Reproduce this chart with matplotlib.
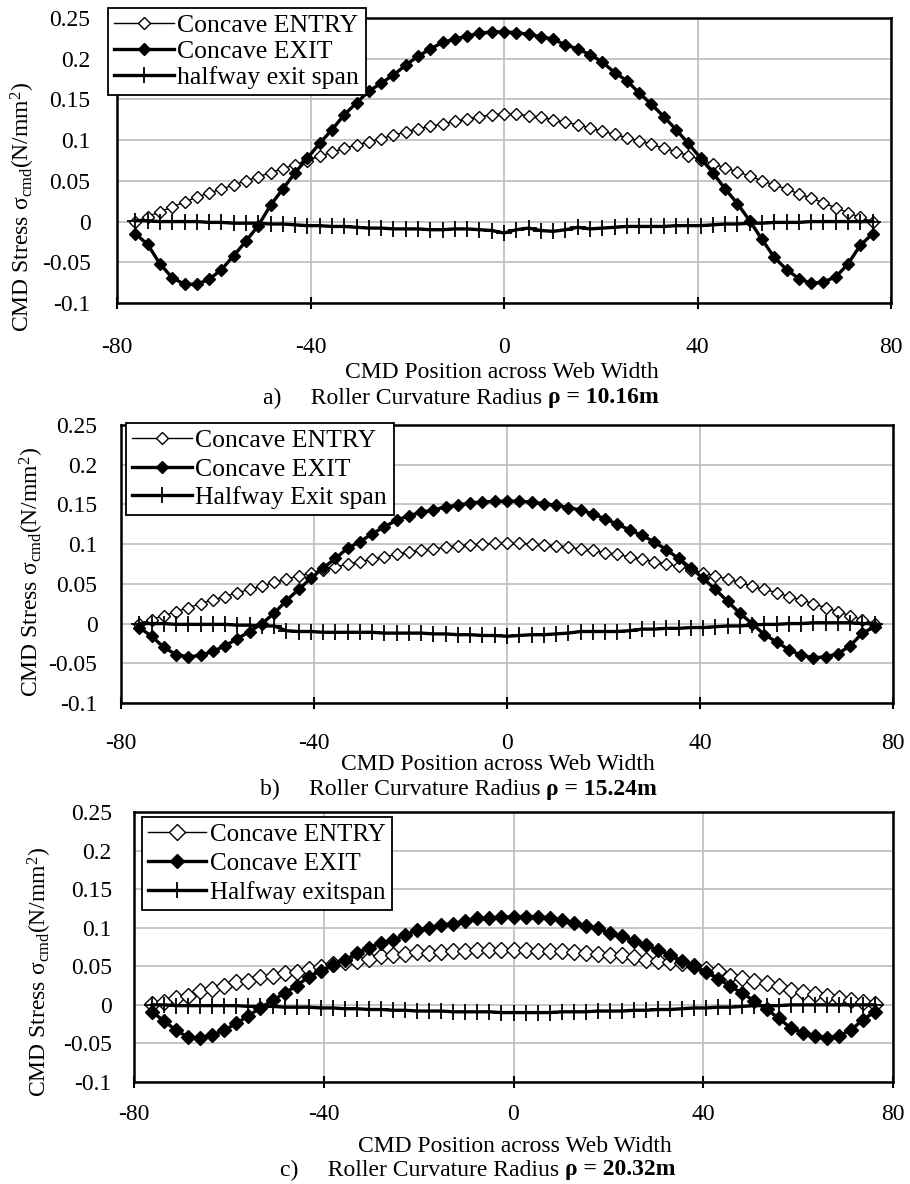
"""
CMD stress across web width for three roller curvature radii.
"""

import matplotlib

matplotlib.use("Agg")
import matplotlib.pyplot as plt

plt.rcParams["font.family"] = ["Liberation Serif", "DejaVu Serif"]
plt.rcParams["mathtext.fontset"] = "custom"
plt.rcParams["mathtext.rm"] = "Liberation Serif"
plt.rcParams["mathtext.it"] = "Liberation Serif:italic"
plt.rcParams["mathtext.bf"] = "Liberation Serif:bold"
plt.rcParams["axes.unicode_minus"] = False

# CMD positions across the web (mm)
positions = [
    -76.2, -73.66, -71.12, -68.58, -66.04, -63.5, -60.96, -58.42, -55.88, -53.34,
    -50.8, -48.26, -45.72, -43.18, -40.64, -38.1, -35.56, -33.02, -30.48, -27.94,
    -25.4, -22.86, -20.32, -17.78, -15.24, -12.7, -10.16, -7.62, -5.08, -2.54,
    0.0, 2.54, 5.08, 7.62, 10.16, 12.7, 15.24, 17.78, 20.32, 22.86,
    25.4, 27.94, 30.48, 33.02, 35.56, 38.1, 40.64, 43.18, 45.72, 48.26,
    50.8, 53.34, 55.88, 58.42, 60.96, 63.5, 66.04, 68.58, 71.12, 73.66, 76.2,
]

# a) rho = 10.16 m
entry_a = [
    0.000, 0.006, 0.012, 0.018, 0.024, 0.030, 0.035, 0.040, 0.045, 0.050,
    0.055, 0.060, 0.065, 0.070, 0.075, 0.080, 0.085, 0.090, 0.094, 0.098,
    0.102, 0.106, 0.110, 0.114, 0.117, 0.120, 0.123, 0.126, 0.129, 0.131,
    0.132, 0.132, 0.130, 0.128, 0.125, 0.122, 0.119, 0.115, 0.111, 0.107,
    0.103, 0.099, 0.095, 0.090, 0.086, 0.081, 0.076, 0.071, 0.066, 0.061,
    0.056, 0.050, 0.045, 0.040, 0.034, 0.029, 0.023, 0.017, 0.011, 0.005, 0.000,
]
exit_a = [
    -0.015, -0.028, -0.052, -0.069, -0.077, -0.077, -0.071, -0.059, -0.042, -0.024,
    -0.005, 0.020, 0.040, 0.060, 0.078, 0.096, 0.113, 0.131, 0.146, 0.160,
    0.170, 0.180, 0.192, 0.203, 0.212, 0.220, 0.224, 0.228, 0.231, 0.233,
    0.233, 0.232, 0.230, 0.227, 0.224, 0.217, 0.212, 0.205, 0.196, 0.183,
    0.173, 0.158, 0.144, 0.129, 0.113, 0.096, 0.078, 0.060, 0.040, 0.022,
    0.001, -0.022, -0.044, -0.059, -0.070, -0.076, -0.074, -0.068, -0.052, -0.029, -0.015,
]
halfway_a = [
    0.001, 0.001, 0.000, 0.000, 0.000, 0.000, -0.001, -0.001, -0.002, -0.002,
    -0.002, -0.003, -0.003, -0.004, -0.005, -0.005, -0.006, -0.006, -0.007, -0.008,
    -0.008, -0.009, -0.009, -0.009, -0.010, -0.010, -0.009, -0.009, -0.010, -0.011,
    -0.014, -0.010, -0.008, -0.011, -0.012, -0.010, -0.007, -0.009, -0.008, -0.007,
    -0.006, -0.006, -0.006, -0.006, -0.005, -0.005, -0.005, -0.004, -0.003, -0.003,
    -0.002, -0.002, -0.001, -0.001, -0.001, 0.000, 0.000, 0.000, 0.000, 0.000, 0.000,
]

# b) rho = 15.24 m
entry_b = [
    0.000, 0.005, 0.010, 0.015, 0.020, 0.025, 0.030, 0.034, 0.039, 0.043,
    0.047, 0.052, 0.056, 0.060, 0.064, 0.068, 0.071, 0.075, 0.078, 0.081,
    0.084, 0.087, 0.090, 0.092, 0.094, 0.096, 0.098, 0.099, 0.100, 0.101,
    0.101, 0.101, 0.100, 0.099, 0.098, 0.096, 0.094, 0.092, 0.089, 0.087,
    0.084, 0.081, 0.078, 0.075, 0.072, 0.068, 0.064, 0.060, 0.056, 0.052,
    0.047, 0.043, 0.039, 0.034, 0.030, 0.025, 0.020, 0.015, 0.010, 0.005, 0.000,
]
exit_b = [
    -0.005, -0.016, -0.030, -0.039, -0.042, -0.040, -0.035, -0.028, -0.019, -0.010,
    0.000, 0.013, 0.029, 0.043, 0.057, 0.070, 0.082, 0.095, 0.103, 0.113,
    0.122, 0.130, 0.136, 0.140, 0.143, 0.147, 0.149, 0.152, 0.153, 0.154,
    0.154, 0.154, 0.153, 0.151, 0.149, 0.146, 0.143, 0.138, 0.132, 0.125,
    0.118, 0.111, 0.103, 0.093, 0.082, 0.070, 0.057, 0.043, 0.028, 0.013,
    0.000, -0.014, -0.023, -0.033, -0.040, -0.043, -0.042, -0.038, -0.028, -0.012, -0.004,
]
halfway_b = [
    0.000, 0.000, 0.000, -0.001, -0.001, -0.001, -0.001, -0.001, -0.002, -0.002,
    -0.003, -0.003, -0.009, -0.010, -0.010, -0.011, -0.011, -0.011, -0.011, -0.011,
    -0.012, -0.012, -0.012, -0.012, -0.013, -0.013, -0.014, -0.014, -0.015, -0.015,
    -0.016, -0.015, -0.014, -0.014, -0.013, -0.012, -0.010, -0.010, -0.010, -0.010,
    -0.009, -0.007, -0.007, -0.006, -0.006, -0.005, -0.005, -0.004, -0.003, -0.003,
    -0.002, -0.001, -0.001, 0.000, 0.000, 0.001, 0.001, 0.001, 0.001, 0.000, 0.000,
]

# c) rho = 20.32 m
entry_c = [
    0.001, 0.004, 0.009, 0.012, 0.018, 0.020, 0.025, 0.029, 0.031, 0.036,
    0.038, 0.041, 0.042, 0.047, 0.049, 0.053, 0.055, 0.057, 0.060, 0.063,
    0.064, 0.066, 0.068, 0.067, 0.068, 0.070, 0.070, 0.071, 0.071, 0.071,
    0.071, 0.071, 0.070, 0.070, 0.070, 0.068, 0.067, 0.066, 0.065, 0.064,
    0.062, 0.058, 0.057, 0.056, 0.054, 0.051, 0.047, 0.044, 0.038, 0.035,
    0.031, 0.028, 0.024, 0.019, 0.017, 0.014, 0.012, 0.009, 0.006, 0.004, 0.001,
]
exit_c = [
    -0.009, -0.021, -0.033, -0.042, -0.043, -0.039, -0.033, -0.024, -0.014, -0.004,
    0.006, 0.015, 0.025, 0.036, 0.044, 0.052, 0.058, 0.067, 0.074, 0.080,
    0.084, 0.090, 0.097, 0.099, 0.104, 0.105, 0.109, 0.112, 0.112, 0.114,
    0.114, 0.114, 0.114, 0.113, 0.110, 0.106, 0.102, 0.099, 0.093, 0.089,
    0.083, 0.077, 0.071, 0.065, 0.057, 0.051, 0.042, 0.034, 0.024, 0.015,
    0.005, -0.006, -0.017, -0.030, -0.036, -0.040, -0.043, -0.040, -0.033, -0.019, -0.009,
]
halfway_c = [
    0.000, 0.000, -0.001, -0.001, -0.001, -0.001, -0.001, -0.001, -0.002, -0.002,
    -0.002, -0.003, -0.003, -0.003, -0.004, -0.004, -0.005, -0.005, -0.006, -0.006,
    -0.007, -0.007, -0.008, -0.008, -0.008, -0.009, -0.009, -0.009, -0.009, -0.010,
    -0.010, -0.010, -0.010, -0.010, -0.009, -0.009, -0.009, -0.008, -0.008, -0.008,
    -0.007, -0.007, -0.006, -0.006, -0.005, -0.004, -0.004, -0.003, -0.003, -0.002,
    -0.001, -0.001, -0.001, 0.000, 0.000, 0.000, 0.000, 0.000, 0.000, 0.000, 0.000,
]

x_ticks = [-80, -40, 0, 40, 80]
y_ticks = [-0.1, -0.05, 0, 0.05, 0.1, 0.15, 0.2, 0.25]
y_tick_labels = ["-0.1", "-0.05", "0", "0.05", "0.1", "0.15", "0.2", "0.25"]

W, H = 910, 1184
fig = plt.figure(figsize=(W / 100, H / 100), dpi=100)


def fx(x):
    return x / W


def fy(y):
    return 1 - y / H


def draw_panel(lay, entry, exit_, halfway, labels, tag, radius):
    """Draw one of the three stacked panels; lay holds pixel positions."""
    left, top, right, bottom = lay["box"]
    ax = fig.add_axes([fx(left), fy(bottom), (right - left) / W, (bottom - top) / H])

    ax.plot(positions, entry, color="black", lw=1.0, marker="D",
            ms=lay["ms_entry"], mfc="white", mec="black", mew=1.0,
            label=labels[0], zorder=3)
    ax.plot(positions, exit_, color="black", lw=2.4, marker="D",
            ms=lay["ms_exit"], mfc="black", mec="black",
            label=labels[1], zorder=4)
    ax.plot(positions, halfway, color="black", lw=2.4, marker="+",
            ms=11, mew=1.3, label=labels[2], zorder=3)

    ax.set_xlim(-80, 80)
    ax.set_ylim(-0.1, 0.25)
    ax.set_xticks(x_ticks)
    ax.set_xticklabels([str(t) for t in x_ticks])
    ax.set_yticks(y_ticks)
    ax.set_yticklabels(y_tick_labels)
    ax.grid(True, color="#c0c0c0", lw=1.3)
    ax.set_axisbelow(True)
    for s in ax.spines.values():
        s.set_linewidth(1.8)
    ax.tick_params(axis="x", direction="inout", length=9, width=1.5,
                   pad=lay["xpad"], labelsize=17)
    ax.tick_params(axis="y", length=0, pad=lay["ypad"], labelsize=17)

    lx, ly = lay["legend"]
    leg = ax.legend(loc="upper left", bbox_to_anchor=(fx(lx), fy(ly)),
                    bbox_transform=fig.transFigure, borderaxespad=0,
                    fontsize=lay["lfont"], fancybox=False, framealpha=1,
                    edgecolor="black", borderpad=0.25, handlelength=2.3,
                    handletextpad=0.15, labelspacing=lay["lspace"])
    leg.get_frame().set_linewidth(1.3)

    yx, yy = lay["ylabel"]
    fig.text(fx(yx), fy(yy), r"CMD Stress σ$_{\mathrm{cmd}}$(N/mm$^{2}$)",
             rotation=90, ha="center", va="center", fontsize=17)
    xx, xy = lay["xlabel"]
    fig.text(fx(xx), fy(xy), "CMD Position across Web Width",
             ha="center", va="center", fontsize=17)

    cx, cy = lay["caption"]
    t1 = fig.text(fx(cx), fy(cy), tag + ")     Roller Curvature Radius ",
                  ha="left", va="center", fontsize=17)
    renderer = fig.canvas.get_renderer()
    bb = t1.get_window_extent(renderer=renderer)
    fig.text(bb.x1 / W, fy(cy), "ρ = " + radius, ha="left", va="center",
             fontsize=17, fontweight="bold")


layout_a = {"box": (117, 18, 891, 303), "xpad": 20, "ypad": 19,
            "legend": (108, 8), "lspace": 0.1, "lfont": 18.5,
            "ms_entry": 6, "ms_exit": 6,
            "ylabel": (23, 207), "xlabel": (502, 373), "caption": (263, 398)}
layout_b = {"box": (121, 425, 893, 703), "xpad": 17, "ypad": 17,
            "legend": (126, 423), "lspace": 0.2, "lfont": 18.5,
            "ms_entry": 6, "ms_exit": 6,
            "ylabel": (32, 572), "xlabel": (498, 764), "caption": (260, 789)}
layout_c = {"box": (134, 812, 893, 1082), "xpad": 11, "ypad": 16,
            "legend": (142, 817), "lspace": 0.25, "lfont": 18,
            "ms_entry": 8, "ms_exit": 7,
            "ylabel": (40, 972), "xlabel": (515, 1147), "caption": (280, 1170)}

draw_panel(layout_a, entry_a, exit_a, halfway_a,
           ["Concave ENTRY", "Concave EXIT", "halfway exit span"], "a", "10.16m")
draw_panel(layout_b, entry_b, exit_b, halfway_b,
           ["Concave ENTRY", "Concave EXIT", "Halfway Exit span"], "b", "15.24m")
draw_panel(layout_c, entry_c, exit_c, halfway_c,
           ["Concave ENTRY", "Concave EXIT", "Halfway exitspan"], "c", "20.32m")

fig.savefig("out.png", dpi=100)
